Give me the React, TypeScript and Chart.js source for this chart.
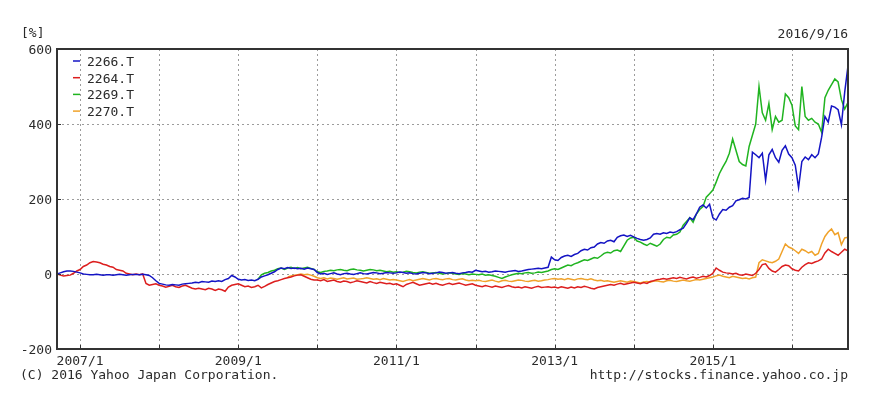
import React, { useEffect, useRef } from 'react';
import { Chart, registerables } from 'chart.js';

Chart.register(...registerables);

// Semi-monthly samples, index 0 = 2006/9/16 ... index 240 = 2016/9/16
const seriesNames = ['2266.T', '2264.T', '2269.T', '2270.T'];
const seriesColors = ['#1414c4', '#dc1e1e', '#20b420', '#f0a22a'];
const yTickValues = [-200, 0, 200, 400, 600];
const gridYValues = [0, 200, 400];
const tickYears = [2007, 2008, 2009, 2010, 2011, 2012, 2013, 2014, 2015, 2016];
const xTickLabels = ['2007/1', '', '2009/1', '', '2011/1', '', '2013/1', '', '2015/1', ''];
const dateLabel = '2016/9/16';
const unitLabel = '[%]';
const copyright = '(C) 2016 Yahoo Japan Corporation.';
const sourceUrl = 'http://stocks.finance.yahoo.co.jp';

const s2266 = [
  0, 3, 6, 8, 8, 7, 5,
  3, 0, -1, -2, -2, -1, -2, -3, -2, -2, -3, -2, -1, -2, -3, -2, -1, -1, -2, -1, -2, -4, -10, -18,
  -25, -27, -29, -30, -28, -29, -30, -27, -26, -25, -24, -22, -23, -20, -21, -22, -19, -20, -18, -20, -15, -12, -4, -8,
  -14, -16, -15, -17, -16, -18, -14, -8, -5, -2, 2, 6, 12, 16, 14, 17, 15, 16, 14, 15, 13, 16, 14, 12,
  4, 0, 2, -1, 1, 3, 0, -2, 1, 2, 0, -1, 1, 3, 1, 0, 2, 4, 3, 1, 2, 4, 3, 2,
  3, 5, 4, 2, 3, 1, 0, 2, 4, 3, 1, 2, 3, 5, 4, 2, 3, 4, 2, 1, 3, 4, 6, 5,
  10, 8, 6, 7, 5, 6, 8, 7, 6, 5, 7, 8, 9, 7, 8, 10, 12, 13, 14, 15, 14, 16, 18, 45,
  38, 36, 44, 48, 50, 47, 52, 55, 62, 66, 64, 70, 72, 80, 84, 82, 88, 90, 86, 98, 102, 104, 100, 103,
  99, 95, 92, 90, 92, 96, 106, 108, 106, 110, 108, 112, 110, 113, 118, 122, 135, 150, 145, 160, 178, 184, 176, 186,
  150, 144, 160, 172, 170, 178, 182, 195, 198, 202, 200, 204, 325, 318, 310, 322, 250, 318, 332, 310, 298, 330, 342, 320,
  310, 290, 230, 300, 312, 305, 318, 310, 320, 365, 420, 405, 448, 445, 438, 398, 485, 555,
];

const s2264 = [
  0, -3, -5, -4, -3, 2, 8,
  12, 20, 24, 30, 33, 32, 30, 26, 24, 20, 18, 12, 10, 8, 2, 0, -2, 0, -2, 0, -25, -30, -28, -26,
  -30, -32, -35, -33, -30, -34, -36, -32, -30, -34, -38, -40, -38, -40, -42, -38, -40, -44, -40, -42, -46, -35, -30, -28,
  -26, -30, -34, -32, -36, -34, -30, -37, -33, -28, -24, -20, -18, -15, -12, -10, -8, -5, -3, -2, -6, -10, -14, -16,
  -16, -18, -15, -20, -18, -16, -20, -22, -19, -20, -23, -21, -18, -20, -22, -24, -20, -23, -25, -22, -24, -26, -25, -28,
  -26, -30, -34, -28, -25, -22, -26, -30, -28, -26, -24, -27, -25, -28, -30, -27, -25, -28, -26, -24, -27, -30, -28, -26,
  -30, -32, -34, -31, -33, -35, -32, -34, -36, -33, -31, -34, -36, -35, -37, -34, -36, -38, -35, -33, -36, -35, -34, -36,
  -35, -37, -34, -36, -38, -35, -37, -34, -36, -33, -35, -38, -40, -36, -34, -32, -30, -28, -30, -27, -25, -28, -26, -24,
  -22, -24, -26, -23, -25, -20, -18, -15, -14, -12, -14, -12, -10, -12, -9, -11, -13, -10, -8, -11, -9, -6, -8, -4,
  2, 16, 10, 5, 3, 2, 0, 2, -2, -3, 0, -2, -4, 2, 12, 25, 27, 15, 8, 5, 12, 20, 24, 22,
  14, 10, 8, 18, 25, 30, 28, 32, 35, 40, 56, 66, 60, 55, 50, 58, 66, 62,
];

const s2269 = [
  ...Array(61).fill(null),
  -14, -2, 2, 4, 8, 10, 14, 16, 12, 16, 18, 15, 17, 14, 16, 18, 15, 12,
  6, 4, 7, 8, 10, 9, 11, 12, 10, 9, 12, 13, 11, 10, 8, 10, 12, 11, 9, 10, 8, 6, 7, 5,
  6, 4, 5, 7, 6, 4, 3, 5, 6, 4, 2, 3, 4, 2, 0, 1, 3, 2, 0, -1, 1, 0, -2, 0,
  -1, -2, 0, -3, -2, -4, -6, -9, -12, -8, -5, -2, 0, 2, 1, 3, 4, 2, 3, 5, 4, 6, 8, 12,
  14, 12, 16, 20, 24, 22, 27, 30, 34, 38, 36, 40, 44, 42, 48, 55, 58, 56, 62, 64, 60, 75, 90, 96,
  98, 88, 85, 80, 76, 82, 78, 74, 80, 92, 98, 96, 104, 106, 112, 130, 140, 150, 138, 160, 172, 180, 205, 214,
  224, 245, 268, 285, 300, 322, 360, 330, 300, 292, 288, 340, 370, 400, 500, 430, 410, 455, 385, 420, 405, 410, 480, 470,
  450, 395, 385, 500, 420, 410, 415, 405, 400, 378, 470, 490, 505, 520, 512, 465, 440, 458,
];

const s2270 = [
  ...Array(70).fill(null),
  -8, -5, -3, -2, 0, -2, -1, -3, -6,
  -10, -12, -10, -13, -11, -12, -14, -12, -10, -13, -12, -11, -14, -13, -12, -10, -12, -14, -13, -15, -12, -14, -16, -15,
  -16, -18, -20, -17, -15, -18, -16, -14, -12, -14, -16, -13, -12, -14, -15, -13, -12, -15, -16, -14, -13, -16, -18, -17,
  -18, -17, -19, -20, -18, -16, -19, -21, -18, -17, -19, -20, -18, -16, -17, -19, -20, -18, -17, -19, -18, -16, -15, -13,
  -12, -14, -13, -15, -12, -14, -16, -13, -12, -14, -15, -13, -16, -18, -17, -19, -18, -20, -22, -20, -18, -20, -22, -19,
  -20, -22, -24, -21, -20, -22, -19, -18, -20, -21, -18, -17, -19, -20, -18, -16, -18, -19, -17, -15, -16, -14, -12, -10,
  -8, -5, -3, -6, -8, -10, -6, -8, -10, -12, -11, -13, -10, -8, 30, 38, 35, 32, 30, 34, 40, 60, 80, 72,
  68, 62, 55, 66, 62, 56, 60, 50, 55, 80, 100, 112, 120, 105, 110, 78, 96, 98,
];

const seriesValues = [s2266, s2264, s2269, s2270];

// index of Jan 1 for a given year on the semi-monthly axis
const yearIndex = (yr: number) => 7 + 24 * (yr - 2007);

const FONT = '13px "DejaVu Sans Mono", monospace';
const TEXT = '#2a2a2a';

const decorPlugin = {
  id: 'decor',
  beforeDatasetsDraw(chart: any) {
    const { ctx, chartArea: a, scales } = chart;
    const x = scales.x;
    const y = scales.y;
    ctx.save();
    ctx.strokeStyle = '#9c9c9c';
    ctx.lineWidth = 1;
    ctx.setLineDash([2, 3]);
    tickYears.forEach((yr) => {
      const px = Math.round(x.getPixelForValue(yearIndex(yr))) + 0.5;
      ctx.beginPath();
      ctx.moveTo(px, a.top);
      ctx.lineTo(px, a.bottom);
      ctx.stroke();
    });
    gridYValues.forEach((v) => {
      const py = Math.round(y.getPixelForValue(v)) + 0.5;
      ctx.beginPath();
      ctx.moveTo(a.left, py);
      ctx.lineTo(a.right, py);
      ctx.stroke();
    });
    ctx.restore();
  },
  afterDatasetsDraw(chart: any) {
    const { ctx, chartArea: a, scales } = chart;
    const x = scales.x;
    const y = scales.y;
    ctx.save();
    // frame
    ctx.setLineDash([]);
    ctx.strokeStyle = '#333';
    ctx.lineWidth = 2;
    ctx.strokeRect(a.left, a.top, a.right - a.left, a.bottom - a.top);
    // tick marks
    ctx.lineWidth = 1;
    yTickValues.forEach((v) => {
      const py = Math.round(y.getPixelForValue(v)) + 0.5;
      ctx.beginPath();
      ctx.moveTo(a.left, py);
      ctx.lineTo(a.left + 4, py);
      ctx.moveTo(a.right, py);
      ctx.lineTo(a.right - 4, py);
      ctx.stroke();
    });
    tickYears.forEach((yr) => {
      const px = Math.round(x.getPixelForValue(yearIndex(yr))) + 0.5;
      ctx.beginPath();
      ctx.moveTo(px, a.bottom);
      ctx.lineTo(px, a.bottom - 4);
      ctx.stroke();
    });
    // texts
    ctx.font = FONT;
    ctx.fillStyle = TEXT;
    ctx.textBaseline = 'alphabetic';
    ctx.textAlign = 'right';
    yTickValues.forEach((v) => {
      ctx.fillText(String(v), a.left - 5, y.getPixelForValue(v) + 4.5);
    });
    ctx.textAlign = 'center';
    tickYears.forEach((yr, i) => {
      if (xTickLabels[i]) ctx.fillText(xTickLabels[i], x.getPixelForValue(yearIndex(yr)), a.bottom + 16);
    });
    ctx.textAlign = 'left';
    ctx.fillText(unitLabel, 21, 37);
    ctx.fillText(copyright, 20, 379);
    ctx.textAlign = 'right';
    ctx.fillText(dateLabel, a.right, 38);
    ctx.fillText(sourceUrl, a.right, 379);
    // legend
    ctx.textAlign = 'left';
    seriesNames.forEach((name, i) => {
      const cy = a.top + 12 + i * 16.7;
      ctx.strokeStyle = seriesColors[i];
      ctx.lineWidth = 1.5;
      ctx.beginPath();
      ctx.moveTo(a.left + 16, cy);
      ctx.lineTo(a.left + 23, cy);
      ctx.stroke();
      ctx.fillStyle = TEXT;
      ctx.fillText(name, a.left + 30, cy + 5);
    });
    ctx.restore();
  },
};

export default function App() {
  const ref = useRef<HTMLCanvasElement | null>(null);

  useEffect(() => {
    document.body.style.margin = '0';
    const canvas = ref.current;
    if (!canvas) return;
    const datasets = seriesNames.map((name, s) => ({
      label: name,
      data: seriesValues[s].map((v, i) => ({ x: i, y: v })),
      borderColor: seriesColors[s],
      backgroundColor: seriesColors[s],
      borderWidth: 1.5,
      pointRadius: 0,
      tension: 0,
      spanGaps: false,
    }));
    const chart = new Chart(canvas, {
      type: 'line',
      data: { datasets },
      options: {
        animation: false,
        responsive: true,
        maintainAspectRatio: false,
        layout: { padding: { top: 49, right: 22, left: 0, bottom: 0 } },
        plugins: { legend: { display: false }, tooltip: { enabled: false } },
        scales: {
          x: {
            type: 'linear',
            min: 0,
            max: 240,
            grid: { display: false },
            border: { display: false },
            ticks: { display: false },
            afterFit: (s: any) => {
              s.height = 46;
            },
          },
          y: {
            min: -200,
            max: 600,
            grid: { display: false },
            border: { display: false },
            ticks: { display: false, stepSize: 200 },
            afterFit: (s: any) => {
              s.width = 57;
            },
          },
        },
      },
      plugins: [decorPlugin],
    });
    return () => chart.destroy();
  }, []);

  return (
    <div style={{ position: 'absolute', left: 0, top: 0, width: 870, height: 395, background: '#fff' }}>
      <canvas ref={ref} />
    </div>
  );
}
